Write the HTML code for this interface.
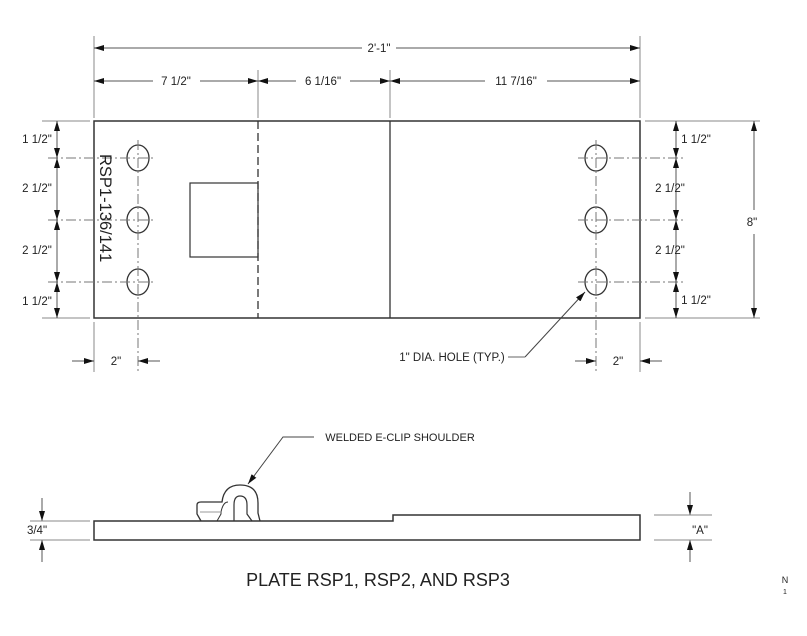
<!DOCTYPE html>
<html><head><style>body{margin:0;background:#fff}svg{display:block}text{font-family:"Liberation Sans",sans-serif;fill:#222}</style></head>
<body>
<svg width="807" height="636" viewBox="0 0 807 636" xmlns="http://www.w3.org/2000/svg">
<defs>
<marker id="a" viewBox="0 0 10 6" refX="10" refY="3" markerWidth="10" markerHeight="6" orient="auto-start-reverse" markerUnits="userSpaceOnUse"><path d="M0,0L10,3L0,6z" fill="#111"/></marker>
</defs>
<g stroke="#333" stroke-width="1" fill="none">
<rect x="94" y="121" width="546" height="197" stroke-width="1.5"/>
<line x1="258" y1="121" x2="258" y2="318" stroke-dasharray="8,4" stroke-width="1.3"/>
<line x1="390" y1="121" x2="390" y2="318" stroke-width="1.3"/>
<rect x="190" y="183" width="68" height="74" stroke-width="1.2"/>
<g stroke-width="1.3">
<ellipse cx="138" cy="158" rx="11" ry="13"/><ellipse cx="138" cy="220" rx="11" ry="13"/><ellipse cx="138" cy="282" rx="11" ry="13"/>
<ellipse cx="596" cy="158" rx="11" ry="13"/><ellipse cx="596" cy="220" rx="11" ry="13"/><ellipse cx="596" cy="282" rx="11" ry="13"/>
</g>
<g stroke="#777" stroke-dasharray="10,3,2,3">
<line x1="138" y1="140" x2="138" y2="372"/><line x1="596" y1="140" x2="596" y2="372"/>
<line x1="48" y1="158" x2="155" y2="158"/><line x1="48" y1="220" x2="155" y2="220"/><line x1="48" y1="282" x2="155" y2="282"/>
<line x1="578" y1="158" x2="686" y2="158"/><line x1="578" y1="220" x2="686" y2="220"/><line x1="578" y1="282" x2="686" y2="282"/>
</g>
<g stroke="#888">
<line x1="94" y1="36" x2="94" y2="118"/><line x1="640" y1="36" x2="640" y2="118"/>
<line x1="258" y1="70" x2="258" y2="118"/><line x1="390" y1="70" x2="390" y2="118"/>
<line x1="42" y1="121" x2="90" y2="121"/><line x1="42" y1="318" x2="90" y2="318"/>
<line x1="645" y1="121" x2="760" y2="121"/><line x1="645" y1="318" x2="760" y2="318"/>
<line x1="94" y1="322" x2="94" y2="372"/><line x1="640" y1="322" x2="640" y2="372"/>
</g>
<g stroke="#555" marker-start="url(#a)" marker-end="url(#a)">
<line x1="94" y1="48" x2="362" y2="48" marker-end="none"/><line x1="396" y1="48" x2="640" y2="48" marker-start="none"/>
<line x1="94" y1="81" x2="153" y2="81" marker-end="none"/><line x1="200" y1="81" x2="258" y2="81" marker-start="none"/>
<line x1="258" y1="81" x2="296" y2="81" marker-end="none"/><line x1="350" y1="81" x2="390" y2="81" marker-start="none"/>
<line x1="390" y1="81" x2="485" y2="81" marker-end="none"/><line x1="547" y1="81" x2="640" y2="81" marker-start="none"/>
<line x1="57" y1="121" x2="57" y2="158"/><line x1="57" y1="158" x2="57" y2="220"/><line x1="57" y1="220" x2="57" y2="282"/><line x1="57" y1="282" x2="57" y2="318"/>
<line x1="676" y1="121" x2="676" y2="158"/><line x1="676" y1="158" x2="676" y2="220"/><line x1="676" y1="220" x2="676" y2="282"/><line x1="676" y1="282" x2="676" y2="318"/>
<line x1="754" y1="121" x2="754" y2="210" marker-end="none"/><line x1="754" y1="234" x2="754" y2="318" marker-start="none"/>
</g>
<g stroke="#555" marker-end="url(#a)">
<line x1="72" y1="361" x2="94" y2="361"/><line x1="160" y1="361" x2="138" y2="361"/>
<line x1="575" y1="361" x2="596" y2="361"/><line x1="662" y1="361" x2="640" y2="361"/>
<line x1="525" y1="357" x2="585" y2="292" stroke="#444"/>
<path d="M314,437H283L248,484" stroke="#444"/>
<line x1="42" y1="498" x2="42" y2="521"/><line x1="42" y1="562" x2="42" y2="540"/>
<line x1="690" y1="492" x2="690" y2="515"/><line x1="690" y1="562" x2="690" y2="540"/>
</g>
<line x1="508" y1="357" x2="525" y2="357" stroke="#666"/>
<path d="M94,521H393V515H640V540H94Z" stroke-width="1.5"/>
<path d="M201,521L197,514V505Q197,502 201,502H222Q224,485 240,485Q258,485 258,503V513L260,521" stroke-width="1.3"/>
<path d="M217,521L221,514V512Q223,502 228,502" stroke-width="1"/>
<path d="M234,521V505Q234,496 240,496Q247,496 247,505V514L252,521" stroke-width="1.2"/>
<line x1="200" y1="512" x2="222" y2="512" stroke="#999"/>
<g stroke="#888"><line x1="30" y1="521" x2="90" y2="521"/><line x1="30" y1="540" x2="90" y2="540"/>
<line x1="654" y1="515" x2="712" y2="515"/><line x1="654" y1="540" x2="712" y2="540"/></g>
</g>
<g font-size="11.5" text-anchor="middle">
<text x="379" y="52">2'-1"</text>
<text x="176" y="85">7 1/2"</text><text x="323" y="85">6 1/16"</text><text x="516" y="85">11 7/16"</text>
<text x="37" y="143">1 1/2"</text><text x="37" y="192">2 1/2"</text><text x="37" y="254">2 1/2"</text><text x="37" y="305">1 1/2"</text>
<text x="696" y="143">1 1/2"</text><text x="670" y="192">2 1/2"</text><text x="670" y="254">2 1/2"</text><text x="696" y="304">1 1/2"</text>
<text x="752" y="226">8"</text>
<text x="116" y="365">2"</text><text x="618" y="365">2"</text>
<text x="452" y="361">1" DIA. HOLE (TYP.)</text>
<text x="400" y="441" font-size="11">WELDED E-CLIP SHOULDER</text>
<text x="37" y="534">3/4"</text><text x="700" y="534">"A"</text>
<text x="378" y="586" font-size="18">PLATE RSP1, RSP2, AND RSP3</text>
<text x="785" y="583" font-size="9">N</text><text x="785" y="594" font-size="7">1</text>
</g>
<text transform="translate(100,154) rotate(90)" font-size="16.5">RSP1-136/141</text>
</svg>
</body></html>
